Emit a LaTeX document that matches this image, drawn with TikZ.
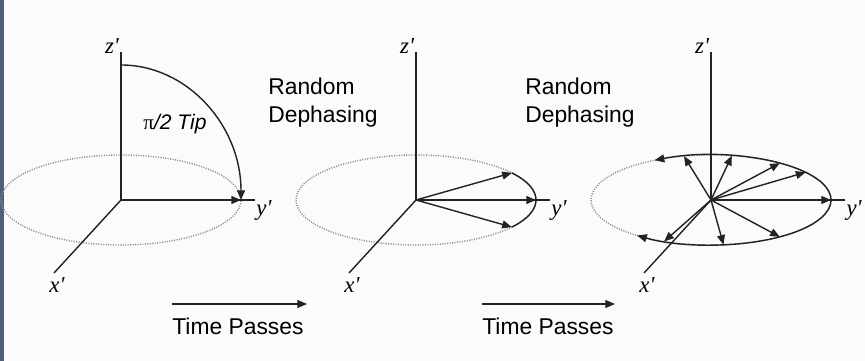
\documentclass[tikz,border=0pt]{standalone}
\usepackage{fontspec}
\setmainfont{Liberation Sans}
\newfontfamily\axfont{Liberation Serif}
\usetikzlibrary{arrows.meta,calc}
\definecolor{strip}{HTML}{4E6078}
\definecolor{paper}{HTML}{FBFBFB}
\definecolor{ink}{HTML}{222222}
\tikzset{
  vec/.style={ink,line width=0.8pt,-{Triangle[length=5.5pt,width=4.5pt]}},
  ring/.style={black!45,line width=0.8pt,dash pattern=on 0.6pt off 0.8pt},
  axlbl/.style={font=\fontsize{13}{13}\axfont\itshape,inner sep=0pt},
  txt/.style={font=\fontsize{13}{16}\selectfont,align=left,inner sep=0pt}
}
\begin{document}
\begin{tikzpicture}[x=0.02cm,y=0.02cm]
  \fill[paper] (0,0) rectangle (865,361);
  \fill[strip] (0,0) rectangle (4,361);
  % three frames: axes, labels and the dotted circle
  \foreach \cx/\n in {121/1,416/2,711/3}{
    \coordinate (o\n) at (\cx,161);
    \coordinate (zt\n) at ($(o\n)+(0,148)$);
    \coordinate (ye\n) at ($(o\n)+(134,0)$);
    \coordinate (xe\n) at ($(o\n)+(-67,-73)$);
    \draw[ring] (o\n) ellipse [x radius=120, y radius=45];
    \draw[ink,line width=0.8pt] (o\n) -- (zt\n);
    \draw[ink,line width=0.8pt] (o\n) -- (ye\n);
    \draw[ink,line width=0.8pt] (o\n) -- (xe\n);
    \node[axlbl] (zl\n) at ($(o\n)+(-9,154)$) {z'};
    \node[axlbl] (yl\n) at ($(o\n)+(143,-10)$) {y'};
    \node[axlbl] (xl\n) at ($(o\n)+(-64,-85)$) {x'};
  }
  % pi/2 tip
  \draw[vec] (o1) -- ($(o1)+(0:120 and 45)$);
  \draw[vec] ($(o1)+(0,135)$) arc[start angle=90, end angle=0, x radius=120, y radius=135];
  \node[font=\fontsize{12}{12}\selectfont\itshape] (tip) at (175,237) {{\axfont\upshape π}/2 Tip};
  % small spread
  \foreach \a in {37,0,-37}
    \draw[vec] (o2) -- ($(o2)+(\a:120 and 45)$);
  \draw[ink,line width=0.8pt] ($(o2)+(37:120 and 45)$) arc[start angle=37, end angle=-37, x radius=120, y radius=45];
  % large spread
  \foreach \a in {103,80,55,38,0,-55,-84,-113}
    \draw[vec] (o3) -- ($(o3)+(\a:120 and 45)$);
  \draw[ink,line width=0.8pt,{Triangle[length=5.5pt,width=4.5pt]}-{Triangle[length=5.5pt,width=4.5pt]}]
    ($(o3)+(118:120 and 45)$) arc[start angle=118, end angle=-128, x radius=120, y radius=45];
  \node[txt,anchor=west] (rd1) at (268,258) {Random\\Dephasing};
  \node[txt,anchor=west] (rd2) at (525,258) {Random\\Dephasing};
  \node[txt,anchor=west] (tp1) at (172,35) {Time Passes};
  \node[txt,anchor=west] (tp2) at (482,35) {Time Passes};
  \coordinate (ta1) at (172,57);
  \coordinate (tb1) at (307,57);
  \coordinate (ta2) at (482,57);
  \coordinate (tb2) at (615,57);
  \draw[vec] (ta1) -- (tb1);
  \draw[vec] (ta2) -- (tb2);
\end{tikzpicture}
\end{document}
